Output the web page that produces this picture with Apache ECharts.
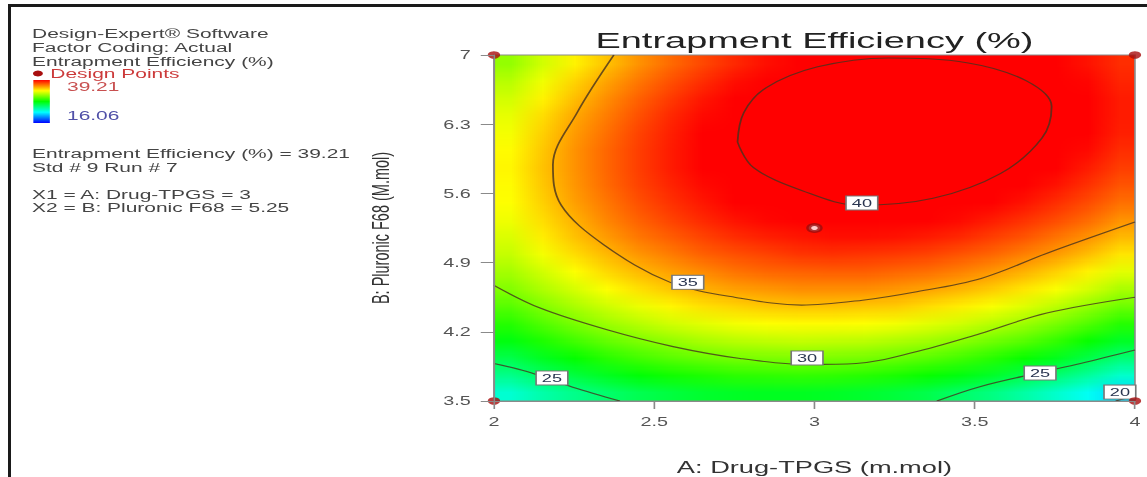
<!DOCTYPE html>
<html><head><meta charset="utf-8">
<script src="https://cdn.jsdelivr.net/npm/echarts@6/dist/echarts.min.js"></script>
<style>
html,body{margin:0;padding:0;background:#fff;overflow:hidden;width:1147px;height:477px}
#hm{position:absolute;left:494px;top:55px;width:20px;height:20px;transform:scale(32.05,17.3);transform-origin:0 0;image-rendering:auto}
#hm canvas{image-rendering:auto}
#c{position:absolute;left:0;top:0;width:695px;height:477px;transform:scaleX(1.65036);transform-origin:0 0}
#frame{position:absolute;left:8px;top:4px;right:-10px;bottom:-10px;border-top:3px solid #1a1a1a;border-left:3px solid #1a1a1a;pointer-events:none}
</style></head><body>
<div id="hm"></div><div id="c"></div><div id="frame"></div>
<script>
// ---- data ----
const xTicks = [2, 2.5, 3, 3.5, 4];
const yTicks = [3.5, 4.2, 4.9, 5.6, 6.3, 7];
const xInterval = 0.5, yInterval = 0.7;
// heatmap cell centres (A: Drug-TPGS, B: Pluronic F68)
const aCells = [2.05,2.15,2.25,2.35,2.45,2.55,2.65,2.75,2.85,2.95,3.05,3.15,3.25,3.35,3.45,3.55,3.65,3.75,3.85,3.95];
const bCells = [3.5875,3.7625,3.9375,4.1125,4.2875,4.4625,4.6375,4.8125,4.9875,5.1625,5.3375,5.5125,5.6875,5.8625,6.0375,6.2125,6.3875,6.5625,6.7375,6.9125];
// estimated Entrapment Efficiency (%) per cell, rows from top (B = 6.91) to bottom (B = 3.59)
const effGrid = [
[31.0,32.4,33.7,34.8,35.9,36.8,37.6,38.3,38.9,39.4,39.8,40.0,40.2,40.2,40.2,40.0,39.7,39.3,38.8,38.2],
[31.8,33.1,34.4,35.5,36.5,37.4,38.2,38.9,39.5,39.9,40.3,40.5,40.6,40.7,40.6,40.4,40.0,39.6,39.1,38.4],
[32.4,33.7,34.9,36.0,37.0,37.9,38.7,39.3,39.9,40.3,40.6,40.9,41.0,40.9,40.8,40.6,40.3,39.8,39.3,38.6],
[32.9,34.2,35.4,36.4,37.4,38.3,39.0,39.6,40.2,40.6,40.9,41.1,41.1,41.1,41.0,40.7,40.4,39.9,39.3,38.6],
[33.2,34.5,35.7,36.7,37.7,38.5,39.2,39.8,40.3,40.7,41.0,41.1,41.2,41.1,41.0,40.7,40.3,39.8,39.2,38.5],
[33.5,34.7,35.9,36.9,37.8,38.6,39.3,39.9,40.3,40.7,41.0,41.1,41.1,41.0,40.8,40.5,40.1,39.6,39.0,38.2],
[33.6,34.8,35.9,36.9,37.8,38.6,39.2,39.8,40.2,40.6,40.8,40.9,40.9,40.8,40.6,40.3,39.8,39.3,38.6,37.8],
[33.5,34.7,35.8,36.8,37.7,38.4,39.0,39.6,40.0,40.3,40.5,40.6,40.6,40.4,40.2,39.9,39.4,38.8,38.1,37.3],
[33.4,34.5,35.6,36.5,37.4,38.1,38.7,39.2,39.6,39.9,40.1,40.2,40.1,40.0,39.7,39.3,38.8,38.2,37.5,36.7],
[33.1,34.2,35.2,36.2,37.0,37.7,38.3,38.8,39.1,39.4,39.5,39.6,39.5,39.3,39.0,38.6,38.1,37.5,36.8,35.9],
[32.6,33.8,34.8,35.7,36.5,37.1,37.7,38.2,38.5,38.7,38.9,38.9,38.8,38.6,38.3,37.8,37.3,36.6,35.9,35.0],
[32.1,33.2,34.2,35.0,35.8,36.4,37.0,37.4,37.7,38.0,38.1,38.0,37.9,37.7,37.3,36.9,36.3,35.7,34.9,34.0],
[31.4,32.4,33.4,34.3,35.0,35.6,36.1,36.6,36.9,37.0,37.1,37.1,36.9,36.7,36.3,35.8,35.2,34.5,33.7,32.8],
[30.6,31.6,32.5,33.4,34.1,34.7,35.2,35.6,35.8,36.0,36.0,36.0,35.8,35.5,35.1,34.6,34.0,33.3,32.5,31.5],
[29.6,30.6,31.5,32.3,33.0,33.6,34.1,34.4,34.7,34.8,34.8,34.7,34.6,34.2,33.8,33.3,32.7,31.9,31.0,30.1],
[28.5,29.5,30.4,31.2,31.8,32.4,32.8,33.2,33.4,33.5,33.5,33.4,33.2,32.8,32.4,31.8,31.2,30.4,29.5,28.5],
[27.3,28.3,29.1,29.9,30.5,31.0,31.5,31.8,32.0,32.1,32.0,31.9,31.6,31.3,30.8,30.2,29.6,28.8,27.8,26.8],
[25.9,26.9,27.7,28.5,29.1,29.6,30.0,30.3,30.4,30.5,30.4,30.3,30.0,29.6,29.1,28.5,27.8,27.0,26.0,25.0],
[24.5,25.4,26.2,26.9,27.5,28.0,28.3,28.6,28.7,28.8,28.7,28.5,28.2,27.8,27.3,26.7,25.9,25.1,24.1,23.0],
[22.9,23.8,24.5,25.2,25.8,26.2,26.6,26.8,26.9,26.9,26.8,26.6,26.3,25.9,25.3,24.7,23.9,23.0,22.1,21.0]
];
const legendMax = 39.21, legendMin = 16.06;
const designPoints = [[2,7],[4,7],[2,3.5],[4,3.5]];
const centerPoint = [[3,5.25]];
// contour lines (A, B)
const contour40 = [[2.76,6.12],[2.78,6.42],[2.85,6.67],[3.01,6.88],[3.23,6.97],[3.48,6.92],[3.66,6.74],[3.74,6.48],[3.71,6.16],[3.58,5.80],[3.37,5.55],[3.14,5.48],[2.96,5.63],[2.81,5.86],[2.76,6.12]];
const contour35 = [[2.374,7.0],[2.26,6.42],[2.184,5.89],[2.21,5.48],[2.343,5.08],[2.55,4.70],[2.77,4.54],[2.96,4.47],[3.15,4.52],[3.31,4.60],[3.52,4.74],[3.73,5.0],[4.0,5.31]];
const contour30 = [[2.0,4.67],[2.144,4.44],[2.353,4.22],[2.559,4.05],[2.768,3.93],[2.98,3.87],[3.13,3.88],[3.307,3.99],[3.516,4.18],[3.725,4.39],[4.0,4.55]];
const contour25a = [[2.0,3.88],[2.10,3.80],[2.246,3.64],[2.393,3.5]];
const contour25b = [[3.382,3.5],[3.516,3.645],[3.70,3.786],[3.83,3.88],[4.0,4.016]];
const contour20 = [[3.94,3.5],[4.0,3.555]];
const labelA = [3.148, 2.605, 2.977, 2.181, 3.704, 3.953];
const labelB = [5.503, 4.70, 3.935, 3.733, 3.783, 3.59];
const labelText = ['40','35','30','25','25','20'];

// ---- build ----
const F = "'Liberation Sans', Arial, sans-serif";
const ramp = ['#0000ff','#00ffff','#00ff00','#ffff00','#ff0000'];
const heatData = [];
effGrid.forEach((row, r) => row.forEach((v, i) => heatData.push([i, bCells.length - 1 - r, v])));

// response surface: one pixel per cell, smoothed by the browser when enlarged to the plot area
const hm = echarts.init(document.getElementById('hm'), null, {renderer:'canvas', width:20, height:20, devicePixelRatio:1});
hm.setOption({
  animation:false,
  grid:{left:0, right:0, top:0, bottom:0, outerBoundsMode:'none'},
  xAxis:{type:'category', data:aCells, show:false},
  yAxis:{type:'category', data:bCells, show:false},
  visualMap:{show:false, type:'continuous', min:legendMin, max:legendMax, dimension:2, inRange:{color:ramp}},
  series:[{type:'custom', data:heatData, silent:true, encode:{x:0, y:1},
    renderItem:(params, api) => {
      const p = api.coord([api.value(0), api.value(1)]);
      const s = api.size([1, 1]);
      return {type:'rect', shape:{x:p[0]-s[0]/2, y:p[1]-s[1]/2, width:s[0], height:s[1]},
              style:{fill:api.visual('color')}};
    }}]
});

const labelData = labelA.map((a, k) => [a, labelB[k], labelText[k]]);
const contourStyle = {color:'rgba(70,50,30,0.8)', width:1.1};
function contourSeries(d){
  return {type:'line', data:d, smooth:0.35, symbol:'none', silent:true, z:4, lineStyle:contourStyle};
}
const txt = (t, x, y, extra) => Object.assign({type:'text', x:x, y:y, z:10,
  style:Object.assign({text:t, fill:'#444', font:"12.7px 'Liberation Sans', Arial, sans-serif", lineHeight:11,
    verticalAlign:'middle', textVerticalAlign:'middle'}, extra||{})});

const chart = echarts.init(document.getElementById('c'), null, {renderer:'svg', width:695, height:477});
chart.setOption({
  animation:false,
  title:{text:'Entrapment Efficiency (%)', left:355.8, top:23.5,
    textStyle:{fontFamily:F, fontSize:23, fontWeight:'normal', color:'#222'}},
  grid:{left:299.3, right:7.3, top:55, bottom:76, containLabel:false, outerBoundsMode:'none', show:true,
    borderColor:'#8a8a8a', borderWidth:1, backgroundColor:'transparent'},
  xAxis:{type:'value', min:xTicks[0], max:xTicks[xTicks.length-1], interval:xInterval, position:'bottom', z:10,
     name:'A: Drug-TPGS (m.mol)', nameLocation:'middle', nameGap:58,
     nameTextStyle:{fontFamily:F, fontSize:16.5, color:'#333'},
     axisLine:{show:true, onZero:false, lineStyle:{color:'#8a8a8a', width:1}},
     axisTick:{show:true, length:8, lineStyle:{color:'#8a8a8a'}},
     axisLabel:{margin:15, fontSize:12, color:'#555', fontFamily:F},
     splitLine:{show:false}},
  yAxis:{type:'value', min:yTicks[0], max:yTicks[yTicks.length-1], interval:yInterval, position:'left', z:10,
     name:'B: Pluronic F68 (M.mol)', nameLocation:'middle', nameGap:61,
     nameTextStyle:{fontFamily:F, fontSize:14.5, color:'#333'},
     axisLine:{show:true, onZero:false, lineStyle:{color:'#8a8a8a', width:1}},
     axisTick:{show:true, length:8, lineStyle:{color:'#8a8a8a'}},
     axisLabel:{margin:14, fontSize:12, color:'#555', fontFamily:F},
     splitLine:{show:false}},
  series:[
    contourSeries(contour40), contourSeries(contour35), contourSeries(contour30),
    contourSeries(contour25a), contourSeries(contour25b), contourSeries(contour20),
    {type:'scatter', data:labelData, symbolSize:1, silent:true, z:6,
     itemStyle:{color:'rgba(0,0,0,0)'},
     label:{show:true, position:'inside', formatter:p => p.data[2], fontFamily:F, fontSize:11, color:'#2a3550',
       backgroundColor:'#ffffff', borderColor:'#777', borderWidth:1, padding:[1,3,0,3], lineHeight:12, opacity:1}},
    {type:'scatter', data:designPoints, symbol:'circle', symbolSize:7.5, silent:true, z:8,
     itemStyle:{color:'#a80e0e'}},
    {type:'scatter', data:centerPoint, symbol:'circle', symbolSize:7, silent:true, z:8,
     itemStyle:{color:'#ffffff', borderColor:'#9a0e0e', borderWidth:3}}
  ],
  graphic:[
    txt('Design-Expert® Software', 19.4, 34),
    txt('Factor Coding: Actual', 19.4, 48),
    txt('Entrapment Efficiency (%)', 19.4, 62),
    {type:'circle', shape:{cx:23, cy:73.5, r:3}, style:{fill:'#a80e0e'}, z:10},
    txt('Design Points', 30.5, 73.5, {fill:'#cc3a3a'}),
    {type:'rect', shape:{x:20.2, y:80, width:10, height:43}, z:10,
     style:{fill:new echarts.graphic.LinearGradient(0,0,0,1,[
       {offset:0,color:ramp[4]},{offset:0.25,color:ramp[3]},{offset:0.5,color:ramp[2]},{offset:0.75,color:ramp[1]},{offset:1,color:ramp[0]}])}},
    txt(String(legendMax), 40.6, 87, {fill:'#c85050'}),
    txt(String(legendMin), 40.6, 116, {fill:'#5050a8'}),
    txt('Entrapment Efficiency (%) = 39.21', 19.4, 154),
    txt('Std # 9 Run # 7', 19.4, 168),
    txt('X1 = A: Drug-TPGS = 3', 19.4, 195),
    txt('X2 = B: Pluronic F68 = 5.25', 19.4, 208)
  ]
});
</script></body></html>
